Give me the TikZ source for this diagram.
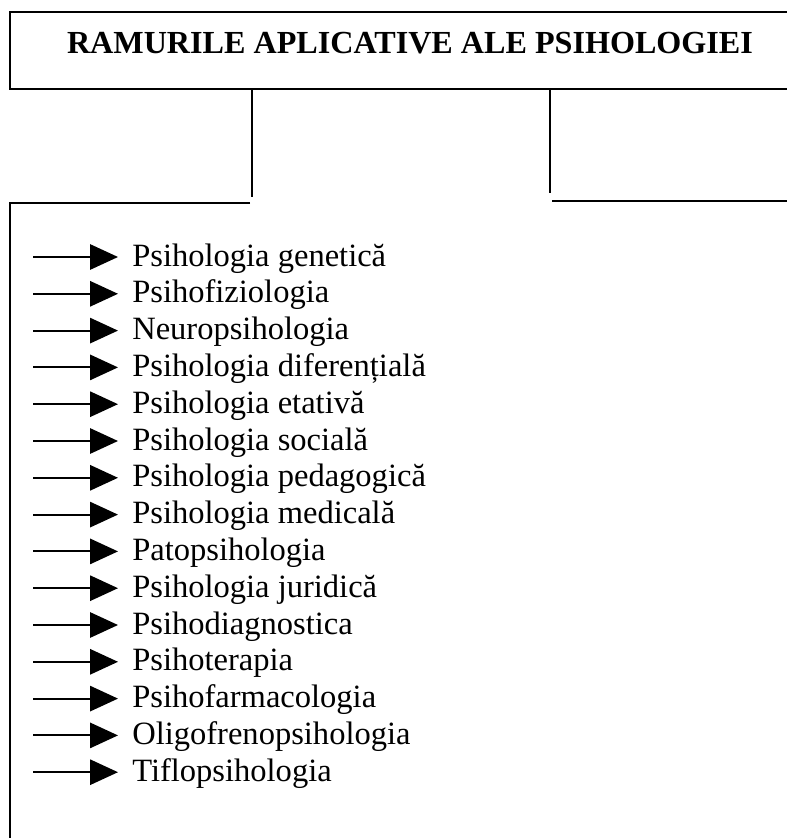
\documentclass[tikz,border=0pt]{standalone}
\usepackage{fontspec}
\setmainfont{Liberation Serif}
\usetikzlibrary{arrows.meta}
\tikzset{
  frame/.style={line width=1.6pt, black},
  itemarrow/.style={line width=1.5pt, -{Triangle[length=21pt,width=19pt]}},
  itemtext/.style={anchor=base west, inner xsep=10.5pt, inner ysep=0pt, font=\fontsize{24.4}{28}\selectfont},
  titletext/.style={font=\bfseries\fontsize{24.1}{28}\selectfont, inner sep=0pt}
}
\begin{document}
\begin{tikzpicture}[x=0.75pt, y=-0.75pt]
  \useasboundingbox (0,0) rectangle (787,838);
  \clip (0,0) rectangle (787,838);

  % title box (runs off the right edge)
  \coordinate (boxTL) at (10,12);
  \coordinate (boxBR) at (800,89);
  \draw[frame] (boxTL) rectangle (boxBR);
  \node[titletext] (title) at (410,43) {RAMURILE APLICATIVE ALE PSIHOLOGIEI};

  % stems from the title box
  \coordinate (s1top) at (252,89);
  \coordinate (s1bot) at (252,197);
  \coordinate (s2top) at (550,89);
  \coordinate (s2bot) at (550,193);
  \draw[frame] (s1top) -- (s1bot);
  \draw[frame] (s2top) -- (s2bot);

  % left bracket holding the list
  \coordinate (brR) at (250,203);
  \coordinate (brL) at (10,203);
  \coordinate (brB) at (10,850);
  \draw[frame] (brR) -- (brL) -- (brB);

  % right branch
  \coordinate (rbL) at (552,201);
  \coordinate (rbR) at (800,201);
  \draw[frame] (rbL) -- (rbR);

  % list of branches
  \foreach \t [count=\i from 0] in {
      Psihologia genetică,
      Psihofiziologia,
      Neuropsihologia,
      Psihologia diferențială,
      Psihologia etativă,
      Psihologia socială,
      Psihologia pedagogică,
      Psihologia medicală,
      Patopsihologia,
      Psihologia juridică,
      Psihodiagnostica,
      Psihoterapia,
      Psihofarmacologia,
      Oligofrenopsihologia,
      Tiflopsihologia} {
    \pgfmathsetmacro{\ya}{257+36.8*\i}
    \pgfmathsetmacro{\yb}{\ya+9}
    \node[itemtext] (t\i) at (118,\yb) {\t};
    \coordinate (a\i) at (33,\ya);
    \draw[itemarrow] (a\i) -- (a\i -| t\i.west);
  }
\end{tikzpicture}
\end{document}
